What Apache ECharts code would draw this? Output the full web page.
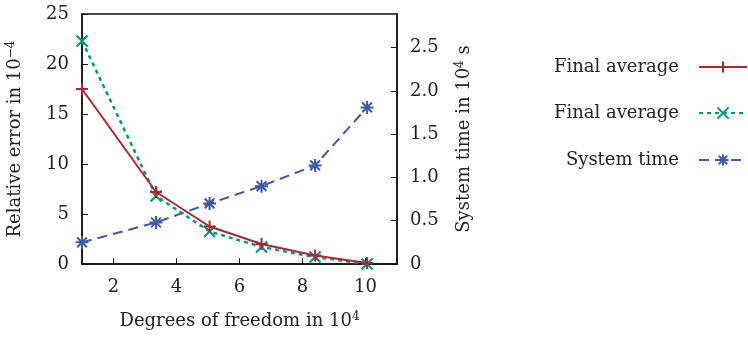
<!DOCTYPE html>
<html>
<head>
<meta charset="utf-8">
<script src="https://cdn.jsdelivr.net/npm/echarts@6/dist/echarts.min.js"></script>
<style>
  html, body { margin: 0; padding: 0; background: #fff; }
  #chart { width: 748px; height: 337px; }
</style>
</head>
<body>
<div id="chart"></div>
<script>
// 数据
const dof = [1.0, 3.35, 5.05, 6.7, 8.4, 10.05]
const finalAvgA = [17.5, 7.2, 3.75, 2.0, 0.85, 0.1]
const finalAvgB = [22.3, 6.8, 3.25, 1.7, 0.7, 0.0]
const systemTime = [0.25, 0.48, 0.70, 0.90, 1.14, 1.81]
const xTicks = [2, 4, 6, 8, 10]
const legendLabels = ['Final average', 'Final average', 'System time']
const seriesNames = ['Final average (a)', 'Final average (b)', 'System time']

const FONT = 'DejaVu Serif'
const TXT = '#222'
const pair = (xs, ys) => xs.map((x, i) => [x, ys[i]])

// gnuplot style markers: + x *
const PLUS = 'path://M-1,0L1,0M0,-1L0,1'
const CROSS = 'path://M-1,-1L1,1M-1,1L1,-1'
const STAR = 'path://M-1,0L1,0M0,-1L0,1M-0.75,-0.75L0.75,0.75M-0.75,0.75L0.75,-0.75'

const chart = echarts.init(document.getElementById('chart'), null, {renderer: 'canvas'})

const supRich = {
  sup: {fontFamily: FONT, fontSize: 12, color: TXT, verticalAlign: 'top', padding: [0, 0, 9, 0]},
}

// 每个图例单独一个组件，保证图标右对齐
const legendRow = (i, top) => ({
  data: [seriesNames[i]],
  orient: 'vertical',
  right: 0,
  top,
  padding: 0,
  itemWidth: 48,
  itemHeight: 14,
  selectedMode: false,
  formatter: name => legendLabels[seriesNames.indexOf(name)],
  textStyle: {fontFamily: FONT, fontSize: 18, color: TXT, padding: [0, 15, 0, 0]},
  align: 'right',
})

const option = {
  animation: false,
  color: ['#b0262c', '#00997e', '#3d5ba9'],
  grid: {left: 82, right: 351, top: 14, bottom: 73, show: true, borderColor: '#111', borderWidth: 1.5},
  legend: [legendRow(0, 58), legendRow(1, 104), legendRow(2, 151)],
  xAxis: {
    type: 'value',
    min: 1,
    max: 11,
    name: 'Degrees of freedom in 10{sup|4}',
    nameLocation: 'middle',
    nameGap: 47,
    nameTextStyle: {fontFamily: FONT, fontSize: 18, color: TXT, rich: supRich},
    axisLine: {lineStyle: {color: '#111', width: 1.5}},
    axisTick: {inside: true, length: 6, customValues: xTicks, lineStyle: {color: '#111'}},
    axisLabel: {customValues: xTicks, fontFamily: FONT, fontSize: 18, color: TXT, margin: 14},
    splitLine: {show: false},
  },
  yAxis: [
    {
      type: 'value',
      min: 0,
      max: 25,
      interval: 5,
      name: 'Relative error in 10{sup|−4}',
      nameLocation: 'middle',
      nameRotate: 90,
      nameGap: 56,
      nameTextStyle: {fontFamily: FONT, fontSize: 18, color: TXT, rich: supRich},
      axisLine: {show: true, lineStyle: {color: '#111', width: 1.5}},
      axisTick: {inside: true, length: 6, lineStyle: {color: '#111'}},
      axisLabel: {fontFamily: FONT, fontSize: 18, color: TXT, margin: 13},
      splitLine: {show: false},
    },
    {
      type: 'value',
      min: 0,
      max: 2.89,
      interval: 0.5,
      name: 'System time in 10{sup|4} s',
      nameLocation: 'middle',
      nameRotate: 90,
      nameGap: 57,
      nameTextStyle: {fontFamily: FONT, fontSize: 18, color: TXT, rich: supRich},
      axisLine: {show: true, lineStyle: {color: '#111', width: 1.5}},
      axisTick: {inside: true, length: 6, lineStyle: {color: '#111'}},
      axisLabel: {
        fontFamily: FONT, fontSize: 18, color: TXT, margin: 13, showMaxLabel: false,
        formatter: v => (v === 0 ? '0' : v.toFixed(1)),
      },
      splitLine: {show: false},
    },
  ],
  series: [
    {
      name: seriesNames[0],
      type: 'line',
      data: pair(dof, finalAvgA),
      symbol: PLUS,
      symbolSize: 12,
      lineStyle: {width: 2, type: 'solid'},
      itemStyle: {borderColor: '#b0262c', borderWidth: 2},
      z: 3,
    },
    {
      name: seriesNames[1],
      type: 'line',
      data: pair(dof, finalAvgB),
      symbol: CROSS,
      symbolSize: 11,
      lineStyle: {width: 2.5, type: [4, 4]},
      itemStyle: {borderColor: '#00997e', borderWidth: 2},
      z: 2,
    },
    {
      name: seriesNames[2],
      type: 'line',
      yAxisIndex: 1,
      data: pair(dof, systemTime),
      symbol: STAR,
      symbolSize: 13,
      lineStyle: {width: 2, type: [10, 6]},
      itemStyle: {borderColor: '#3d5ba9', borderWidth: 2},
      z: 1,
    },
  ],
}

chart.setOption(option)
window.addEventListener('resize', () => chart.resize())
</script>
</body>
</html>
